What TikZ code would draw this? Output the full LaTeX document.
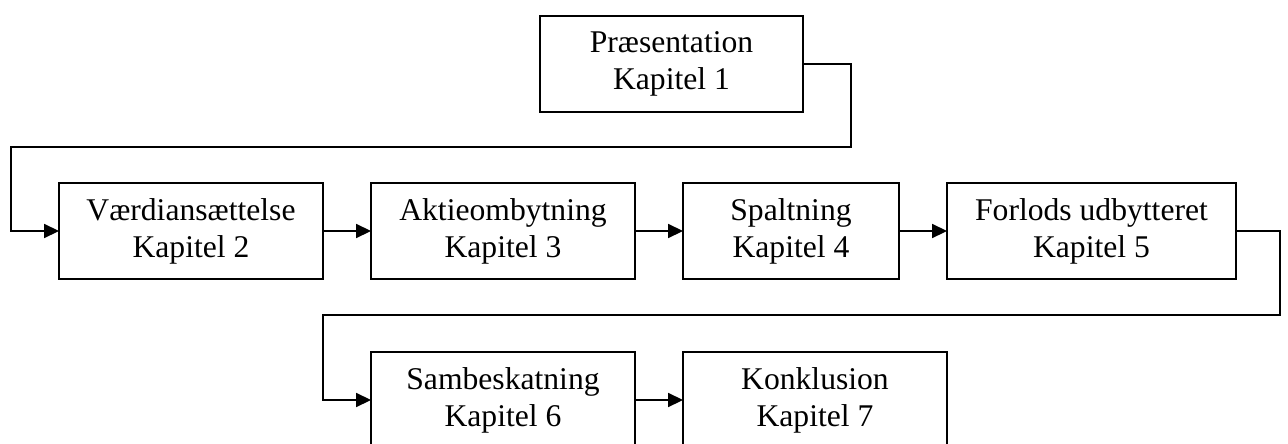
\documentclass[tikz,border=0pt]{standalone}
\usepackage{fontspec}
\setmainfont{Liberation Serif}
\usetikzlibrary{arrows.meta}
\usetikzlibrary{positioning}

\begin{document}
\begin{tikzpicture}[x=0.02cm,y=-0.02cm,
  kap/.style={draw,line width=0.8pt,align=center,inner sep=0pt,outer sep=0pt,
    minimum height=1.92cm,font=\fontsize{18}{21}\selectfont},
  pil/.style={line width=0.8pt,-{Triangle[length=8.5pt,width=8pt]}}]
\clip (0,0) rectangle (1288,443);

\node[kap,minimum width=5.26cm] (pres) at (671.5,64) {Præsentation\\Kapitel 1};
\node[kap,minimum width=5.28cm] (vaerdi) at (191,231) {Værdiansættelse\\Kapitel 2};
\node[kap,minimum width=5.28cm] (aktie) at (503,231) {Aktieombytning\\Kapitel 3};
\node[kap,minimum width=4.32cm] (spalt) at (791,231) {Spaltning\\Kapitel 4};
\node[kap,minimum width=5.78cm] (forlods) at (1091.5,231) {Forlods udbytteret\\Kapitel 5};
\node[kap,minimum width=5.28cm] (samb) at (503,400) {Sambeskatning\\Kapitel 6};
\node[kap,minimum width=5.28cm] (konkl) at (815,400) {Konklusion\\Kapitel 7};

\coordinate (k1) at (851,147);
\coordinate (k2) at (11,147);
\coordinate (k3) at (1280,315);
\coordinate (k4) at (323,315);

\draw[pil] (pres.east) -| (k1) -- (k2) |- (vaerdi.west);
\draw[pil] (vaerdi) -- (aktie);
\draw[pil] (aktie) -- (spalt);
\draw[pil] (spalt) -- (forlods);
\draw[pil] (forlods.east) -| (k3) -- (k4) |- (samb.west);
\draw[pil] (samb) -- (konkl);

\end{tikzpicture}
\end{document}
